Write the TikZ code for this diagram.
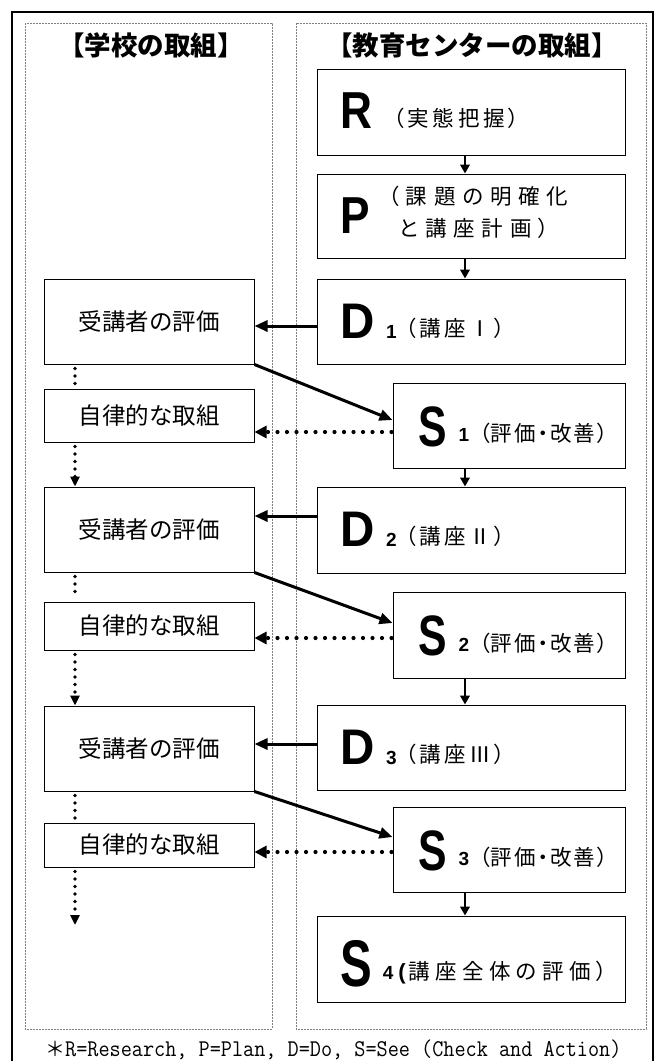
\documentclass[tikz,border=0pt]{standalone}
\usepackage{fontspec}
\usepackage{graphicx}
\usetikzlibrary{arrows.meta}
\setmainfont{Noto Sans CJK JP}
\newfontfamily\jp{Noto Sans CJK JP}
\newfontfamily\jpp{Noto Sans CJK JP}[RawFeature=+palt]
\newfontfamily\lat{Liberation Sans}
\makeatletter
\newcommand\spreadtext[2]{\makebox[#1][s]{\def\rs@sep{}\@tfor\rs@c:=#2\do{\rs@sep\rs@c\def\rs@sep{\hfill}}}}
\makeatother
\newcommand\bigL[3]{{\lat\bfseries\fontsize{#2}{#2}\selectfont\scalebox{#1}[1]{#3}}}
\newcommand\numf{\lat\bfseries\fontsize{19}{19}\selectfont}
\tikzset{
  box/.style={draw, line width=1pt, inner sep=0pt},
  rbox/.style={box, minimum width=308pt},
  sbox/.style={box, minimum width=232pt},
  lbox/.style={box, minimum width=210pt, font=\jp\fontsize{23.5}{23.5}\selectfont},
  hdr/.style={inner sep=0pt, font=\jp\bfseries\fontsize{26.5}{26.5}\selectfont},
  sm/.style={inner sep=0pt, anchor=west, font=\jpp\fontsize{21.5}{21.5}\selectfont},
  slab/.style={inner sep=0pt, anchor=base west, font=\jpp\fontsize{21.5}{21.5}\selectfont},
  bigl/.style={inner sep=0pt, anchor=base west},
  num/.style={inner sep=0pt, anchor=base west, font=\numf},
  varrow/.style={line width=2.2pt, -{Triangle[length=9pt,width=9.5pt]}},
  harrow/.style={line width=3pt, -{Triangle[length=13pt,width=11pt]}},
  dotarrow/.style={line width=4.2pt, line cap=round, dash pattern=on 0pt off 9.5pt, shorten <=1pt, -{Triangle[length=12pt,width=12pt]}},
  vdot/.style={line width=3.6pt, line cap=round, dash pattern=on 0pt off 7.5pt, shorten <=4pt, shorten >=3pt},
  vdotarrow/.style={line width=3.6pt, line cap=round, dash pattern=on 0pt off 7.5pt, shorten <=4pt, -{Triangle[length=10pt,width=9pt]}},
  panel/.style={draw=gray, line width=0.6pt, dash pattern=on 2pt off 1pt},
  frame/.style={line width=2pt},
  foot/.style={inner sep=0pt, anchor=base west}
}
\newcommand\slabel[1]{\bigL{0.75}{57}{S}\hspace{12pt}\raisebox{4.5pt}{{\numf #1}{\jp\fontsize{21.5}{21.5}\selectfont （}\spreadtext{117pt}{評価・改善）}}}
\begin{document}
\begin{tikzpicture}[x=1pt,y=-1pt]
\useasboundingbox (0,0) rectangle (661,1061);
% outer frame and panels
\draw[frame] (12,1061) -- (12,12) -- (653,12) -- (653,1061);
\draw[panel] (25,23) rectangle (272,1029);
\draw[panel] (296,23) rectangle (646,1029);
% headers
\node[hdr] (h1) at (151,45) {【学校の取組】};
\node[hdr] (h2) at (472,45) {【教育センターの取組】};
% right column boxes
\node[rbox, minimum height=86pt] (R) at (471,112) {};
\node[rbox, minimum height=84pt] (P) at (471,216) {};
\node[rbox, minimum height=85pt] (D1) at (471,321.5) {};
\node[sbox, minimum height=85pt] (S1) at (509,425.5) {};
\node[rbox, minimum height=86pt] (D2) at (471,530) {};
\node[sbox, minimum height=86pt] (S2) at (509,635) {};
\node[rbox, minimum height=85pt] (D3) at (471,747.5) {};
\node[sbox, minimum height=85pt] (S3) at (509,849.5) {};
\node[rbox, minimum height=86pt] (S4) at (471,959) {};
% left column boxes
\node[lbox, minimum height=85pt] (J1) at (149,321.5) {受講者の評価};
\node[lbox, minimum height=53pt] (A1) at (149,415.5) {自律的な取組};
\node[lbox, minimum height=85pt] (J2) at (149,529.5) {受講者の評価};
\node[lbox, minimum height=48pt] (A2) at (149,626) {自律的な取組};
\node[lbox, minimum height=85pt] (J3) at (149,748.5) {受講者の評価};
\node[lbox, minimum height=44pt] (A3) at (149,845) {自律的な取組};
% labels R, P
\node[bigl] (Rl) at (340,128) {\bigL{0.85}{52}{R}};
\node[sm] (Rt) at (393,118) {\spreadtext{126pt}{（実態把握）}};
\node[bigl] (Pl) at (340,233) {\bigL{0.85}{52}{P}};
\node[sm] (Pt1) at (388,196) {\spreadtext{180pt}{（課題の明確化}};
\node[sm] (Pt2) at (399,228) {\spreadtext{150pt}{と講座計画）}};
% labels D
\node[bigl] (D1l) at (340,338) {\bigL{0.95}{50}{D}};
\node[num] (D1n) at (386,338) {1};
\node[sm] (D1t) at (405,328) {\spreadtext{100pt}{（講座Ⅰ）}};
\node[bigl] (D2l) at (340,546.5) {\bigL{0.95}{50}{D}};
\node[num] (D2n) at (386,546.5) {2};
\node[sm] (D2t) at (405,536.5) {\spreadtext{100pt}{（講座Ⅱ）}};
\node[bigl] (D3l) at (340,764) {\bigL{0.95}{50}{D}};
\node[num] (D3n) at (386,764) {3};
\node[sm] (D3t) at (405,754) {\spreadtext{100pt}{（講座Ⅲ）}};
% labels S
\node[slab] (S1l) at (418,446) {\slabel{1}};
\node[slab] (S2l) at (418,655.5) {\slabel{2}};
\node[slab] (S3l) at (418,870) {\slabel{3}};
\node[slab] (S4l) at (340,986) {\bigL{0.72}{66}{S}\hspace{11pt}\raisebox{7pt}{{\numf 4}\hspace{5pt}{\lat\bfseries\fontsize{22}{22}\selectfont(}\hspace{3pt}\spreadtext{198pt}{講座全体の評価）}}};
% footnote
\node[foot] (fn) at (45,1056) {{\jp\fontsize{20}{20}\selectfont ＊}\scalebox{0.9}[1]{\ttfamily\fontsize{24}{24}\selectfont R=Research, P=Plan, D=Do, S=See (Check and Action)}};
% helper coordinates
\coordinate (ax) at (465,0);
\coordinate (lx) at (75,0);
\coordinate (endL) at (75,925);
% vertical arrows right column
\draw[varrow] (R.south -| ax) -- (P.north -| ax);
\draw[varrow] (P.south -| ax) -- (D1.north -| ax);
\draw[varrow] (S1.south -| ax) -- (D2.north -| ax);
\draw[varrow] (S2.south -| ax) -- (D3.north -| ax);
\draw[varrow] (S3.south -| ax) -- (S4.north -| ax);
% D -> J
\path ([yshift=-4.5pt]D1.west) coordinate (d1w);
\path ([yshift=14pt]D2.west) coordinate (d2w);
\path ([yshift=3.5pt]D3.west) coordinate (d3w);
\draw[harrow] (d1w) -- (d1w -| J1.east);
\draw[harrow] (d2w) -- (d2w -| J2.east);
\draw[harrow] (d3w) -- (d3w -| J3.east);
% J -> S diagonals
\draw[harrow] (J1.south east) -- ([yshift=5.5pt]S1.west);
\draw[harrow] (J2.south east) -- ([yshift=12pt]S2.west);
\draw[harrow] (J3.south east) -- ([yshift=12.5pt]S3.west);
% S -> A dotted
\path ([yshift=-6.5pt]S1.west) coordinate (s1w);
\path ([yshift=-3pt]S2.west) coordinate (s2w);
\path ([yshift=-2.5pt]S3.west) coordinate (s3w);
\draw[dotarrow] (s1w) -- (s1w -| A1.east);
\draw[dotarrow] (s2w) -- (s2w -| A2.east);
\draw[dotarrow] (s3w) -- (s3w -| A3.east);
% left dotted verticals
\draw[vdot] (J1.south -| lx) -- (A1.north -| lx);
\draw[vdotarrow] (A1.south -| lx) -- (J2.north -| lx);
\draw[vdot] (J2.south -| lx) -- (A2.north -| lx);
\draw[vdotarrow] (A2.south -| lx) -- (J3.north -| lx);
\draw[vdot] (J3.south -| lx) -- (A3.north -| lx);
\draw[vdotarrow] (A3.south -| lx) -- (endL);
\end{tikzpicture}
\end{document}
